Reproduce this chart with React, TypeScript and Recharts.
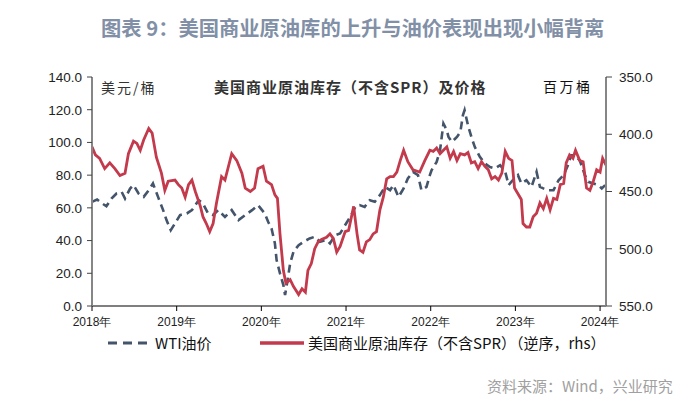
import { LineChart, Line, XAxis, YAxis } from "recharts";

// WTI price, USD/bbl (left axis)
const wtiTime = [
  2018.0, 2018.06, 2018.12, 2018.17, 2018.23, 2018.29, 2018.35, 2018.39, 2018.45, 2018.49,
  2018.55, 2018.61, 2018.67, 2018.72, 2018.78, 2018.84, 2018.88, 2018.93, 2018.98, 2019.04,
  2019.12, 2019.18, 2019.26, 2019.31, 2019.37, 2019.43, 2019.49, 2019.57, 2019.65, 2019.73,
  2019.81, 2019.89, 2019.96, 2020.04, 2020.08, 2020.12, 2020.16, 2020.18, 2020.22, 2020.26,
  2020.28, 2020.31, 2020.34, 2020.38, 2020.44, 2020.5, 2020.57, 2020.63, 2020.69, 2020.77,
  2020.81, 2020.87, 2020.93, 2020.99, 2021.05, 2021.11, 2021.16, 2021.22, 2021.28, 2021.34,
  2021.4, 2021.46, 2021.52, 2021.56, 2021.62, 2021.68, 2021.73, 2021.79, 2021.85, 2021.89,
  2021.95, 2021.99, 2022.01, 2022.07, 2022.11, 2022.15, 2022.19, 2022.21, 2022.25, 2022.31,
  2022.35, 2022.38, 2022.4, 2022.44, 2022.48, 2022.52, 2022.58, 2022.64, 2022.7, 2022.76,
  2022.82, 2022.88, 2022.92, 2022.97, 2023.03, 2023.07, 2023.13, 2023.19, 2023.25, 2023.29,
  2023.33, 2023.39, 2023.45, 2023.51, 2023.57, 2023.62, 2023.66, 2023.7, 2023.76, 2023.82,
  2023.86, 2023.92, 2023.98, 2024.02, 2024.06,
];
const wtiPrice = [
  63.7, 65.1, 62.7, 61.0, 65.7, 68.8, 69.8, 65.7, 71.8, 73.9,
  68.8, 66.7, 70.8, 74.9, 66.7, 58.6, 52.5, 46.4, 50.5, 55.6,
  56.6, 58.6, 64.7, 62.7, 56.6, 55.6, 58.6, 54.5, 58.6, 52.5,
  55.6, 58.6, 61.7, 56.6, 51.5, 47.4, 38.3, 28.1, 20.0, 12.8,
  6.7, 15.9, 26.1, 33.2, 37.2, 39.3, 41.3, 42.3, 39.3, 40.3,
  38.3, 43.3, 44.4, 49.5, 54.5, 60.6, 61.7, 60.6, 64.7, 63.7,
  67.8, 72.8, 70.8, 73.9, 66.7, 71.9, 78.0, 82.0, 80.0, 70.8,
  72.8, 80.0, 83.0, 88.1, 95.2, 111.5, 107.4, 103.4, 100.3, 103.4,
  106.4, 116.6, 119.7, 110.5, 103.4, 97.3, 91.2, 87.1, 85.0, 84.1,
  86.1, 82.0, 73.9, 76.9, 80.0, 74.9, 76.9, 72.8, 82.0, 72.8,
  71.9, 70.8, 70.8, 76.9, 80.0, 86.1, 92.2, 92.2, 89.1, 80.0,
  75.9, 74.9, 73.9, 71.9, 73.9,
];

// US commercial crude inventory ex-SPR, million bbl (right axis, reversed)
const invTime = [
  2018.0, 2018.04, 2018.09, 2018.15, 2018.21, 2018.27, 2018.33, 2018.39, 2018.43, 2018.49,
  2018.53, 2018.57, 2018.61, 2018.67, 2018.71, 2018.76, 2018.82, 2018.86, 2018.9, 2018.98,
  2019.02, 2019.06, 2019.1, 2019.14, 2019.18, 2019.22, 2019.28, 2019.31, 2019.35, 2019.39,
  2019.43, 2019.47, 2019.53, 2019.57, 2019.65, 2019.71, 2019.77, 2019.81, 2019.87, 2019.92,
  2019.96, 2020.02, 2020.06, 2020.12, 2020.16, 2020.19, 2020.22, 2020.26, 2020.29, 2020.34,
  2020.38, 2020.44, 2020.48, 2020.52, 2020.55, 2020.59, 2020.63, 2020.67, 2020.71, 2020.77,
  2020.81, 2020.85, 2020.89, 2020.93, 2020.99, 2021.03, 2021.09, 2021.13, 2021.16, 2021.2,
  2021.24, 2021.28, 2021.32, 2021.36, 2021.4, 2021.44, 2021.48, 2021.52, 2021.56, 2021.6,
  2021.64, 2021.68, 2021.73, 2021.79, 2021.87, 2021.93, 2021.99, 2022.03, 2022.07, 2022.11,
  2022.15, 2022.19, 2022.23, 2022.27, 2022.31, 2022.35, 2022.4, 2022.44, 2022.48, 2022.52,
  2022.56, 2022.6, 2022.64, 2022.68, 2022.72, 2022.76, 2022.8, 2022.84, 2022.88, 2022.92,
  2022.96, 2022.99, 2023.03, 2023.07, 2023.09, 2023.13, 2023.17, 2023.21, 2023.25, 2023.29,
  2023.33, 2023.37, 2023.41, 2023.45, 2023.49, 2023.53, 2023.57, 2023.6, 2023.64, 2023.68,
  2023.71, 2023.76, 2023.8, 2023.84, 2023.88, 2023.92, 2023.96, 2024.0, 2024.03, 2024.07,
];
const invStock = [
  411, 418, 421, 430, 425, 430, 436, 434, 417, 406,
  408, 414, 405, 395, 399, 420, 434, 449, 441, 440,
  444, 447, 455, 444, 440, 450, 463, 472, 478, 485,
  478, 460, 437, 440, 417, 423, 434, 447, 450, 447,
  430, 428, 441, 444, 453, 456, 487, 519, 530, 527,
  533, 540, 535, 538, 519, 513, 500, 494, 492, 490,
  487, 491, 503, 498, 485, 484, 463, 487, 501, 503,
  494, 492, 487, 485, 466, 455, 439, 437, 437, 433,
  423, 414, 424, 431, 433, 423, 414, 415, 412, 417,
  414, 411, 421, 415, 423, 417, 418, 416, 425, 424,
  430, 424, 428, 431, 439, 437, 440, 434, 415, 421,
  423, 447, 452, 457, 478, 481, 481, 472, 469, 460,
  465, 456, 466, 456, 457, 444, 443, 425, 418, 421,
  414, 423, 424, 447, 449, 441, 431, 433, 421, 427,
];

const yearTicks = [2018, 2019, 2020, 2021, 2022, 2023, 2024];
const leftTicks = [0, 20, 40, 60, 80, 100, 120, 140];
const rightTicks = [350, 400, 450, 500, 550];

const wtiData = wtiTime.map((t, i) => ({ t, wti: wtiPrice[i] }));
const invData = invTime.map((t, i) => ({ t, inv: invStock[i] }));

const BLUE = "#44546a";
const RED = "#c23a4c";
const tickFont = { fontSize: 13.5, fill: "#222", fontFamily: "'Liberation Sans', Arial, sans-serif" };
const cjk = "'Noto Sans CJK SC', 'Liberation Sans', sans-serif";

export default function App() {
  return (
    <div style={{ position: "absolute", left: 0, top: 0, width: 700, height: 399, background: "#fff", fontFamily: cjk }}>
      <div
        style={{
          position: "absolute",
          left: 101,
          top: 14,
          fontSize: 20.3,
          lineHeight: "27px",
          fontWeight: 700,
          color: "#8190a6",
          whiteSpace: "nowrap",
        }}
      >
        图表 9：美国商业原油库的上升与油价表现出现小幅背离
      </div>

      <LineChart width={700} height={399} margin={{ top: 77, right: 34, bottom: 63, left: 42 }}>
        <XAxis
          dataKey="t"
          type="number"
          domain={[2018, 2024.07]}
          ticks={yearTicks}
          allowDataOverflow
          tickFormatter={(v) => `${v}年`}
          tick={{ ...tickFont, fontSize: 12 }}
          axisLine={{ stroke: "#000", strokeWidth: 1.2 }}
          tickLine={{ stroke: "#000" }}
          tickSize={5}
          tickMargin={6}
          height={30}
        />
        <YAxis
          yAxisId="left"
          domain={[0, 140]}
          ticks={leftTicks}
          tickFormatter={(v) => v.toFixed(1)}
          tick={tickFont}
          axisLine={{ stroke: "#868686", strokeWidth: 2 }}
          tickLine={{ stroke: "#444" }}
          tickSize={5}
          tickMargin={5}
          width={50}
        />
        <YAxis
          yAxisId="right"
          orientation="right"
          reversed
          domain={[350, 550]}
          ticks={rightTicks}
          tickFormatter={(v) => v.toFixed(1)}
          tick={tickFont}
          axisLine={{ stroke: "#868686", strokeWidth: 2 }}
          tickLine={{ stroke: "#444" }}
          tickSize={6}
          tickMargin={7}
          width={60}
        />
        <Line
          yAxisId="left"
          data={wtiData}
          dataKey="wti"
          type="linear"
          stroke={BLUE}
          strokeWidth={2.6}
          strokeDasharray="8 5"
          dot={false}
          isAnimationActive={false}
        />
        <Line
          yAxisId="right"
          data={invData}
          dataKey="inv"
          type="linear"
          stroke={RED}
          strokeWidth={2.8}
          dot={false}
          isAnimationActive={false}
        />
      </LineChart>

      <div style={{ position: "absolute", left: 101, top: 78, fontSize: 14, letterSpacing: 2, lineHeight: "18px", color: "#333" }}>
        美元/桶
      </div>
      <div
        style={{ position: "absolute", left: 214, top: 77, fontSize: 15, fontWeight: 700, letterSpacing: 1, lineHeight: "20px", color: "#333", whiteSpace: "nowrap" }}
      >
        美国商业原油库存（不含SPR）及价格
      </div>
      <div style={{ position: "absolute", left: 543, top: 77, fontSize: 14, letterSpacing: 2.5, lineHeight: "18px", color: "#111" }}>
        百万桶
      </div>

      <svg style={{ position: "absolute", left: 0, top: 330 }} width={700} height={28}>
        <line x1={108} y1={13} x2={152} y2={13} stroke={BLUE} strokeWidth={3} strokeDasharray="9 6" />
        <line x1={260} y1={13} x2={304} y2={13} stroke={RED} strokeWidth={3.5} />
      </svg>
      <div style={{ position: "absolute", left: 155, top: 334, fontSize: 15, lineHeight: "18px", color: "#111", whiteSpace: "nowrap" }}>
        WTI油价
      </div>
      <div style={{ position: "absolute", left: 308, top: 334, fontSize: 15, lineHeight: "18px", color: "#111", whiteSpace: "nowrap" }}>
        美国商业原油库存（不含SPR）（逆序，rhs）
      </div>

      <div style={{ position: "absolute", left: 487, top: 376, fontSize: 15, lineHeight: "20px", color: "#a0a0a0", whiteSpace: "nowrap" }}>
        资料来源：Wind，兴业研究
      </div>
    </div>
  );
}
